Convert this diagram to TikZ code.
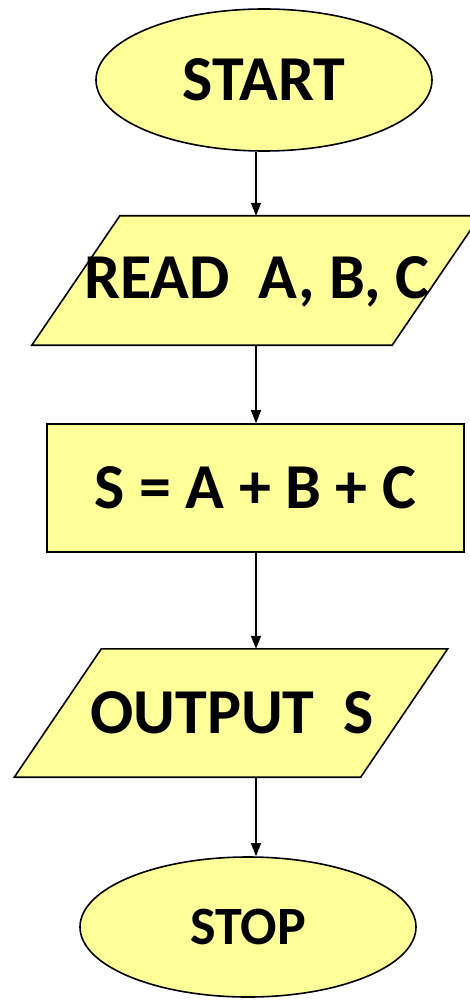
\documentclass[tikz,border=0pt]{standalone}
\usepackage{fontspec}
\setmainfont{Carlito}
\usetikzlibrary{shapes.geometric,arrows.meta,backgrounds,calc}
\definecolor{fc}{HTML}{FFFF99}
\tikzset{
  term/.style={ellipse,draw=black,fill=fc,line width=1.6pt,inner sep=0pt},
  proc/.style={rectangle,draw=black,fill=fc,line width=1.6pt,inner sep=0pt},
  iotext/.style={inner sep=0pt,draw=none},
  iobox/.style={draw=black,fill=fc,line width=1.6pt,line join=miter},
  arr/.style={line width=1.4pt,-{Triangle[length=13pt,width=10pt]}},
  big/.style={font=\fontsize{64}{70}\selectfont\bfseries},
  small/.style={font=\fontsize{54}{60}\selectfont\bfseries}
}
\begin{document}
\begin{tikzpicture}[x=1pt,y=-1pt]
\useasboundingbox (0,0) rectangle (470,1000);
\clip (0,0) rectangle (470,1000);
\coordinate (axis) at (256,0);
\node[term,big,minimum width=336pt,minimum height=142pt] (start) at (264,80) {START};
\node[iotext,big,minimum width=360pt,minimum height=129pt] (read) at (256,280.5) {};
\node[proc,big,minimum width=417pt,minimum height=128pt] (sum) at (255.5,488) {S = A + B + C};
\node[iotext,big,minimum width=346pt,minimum height=128pt] (out) at (231,713) {};
\node[term,small,minimum width=336pt,minimum height=140pt] (stop) at (248,927) {STOP};
\begin{scope}[on background layer]
\draw[iobox] ($(read.north west)+(44,0)$) -- ($(read.north east)+(44,0)$) -- ($(read.south east)+(-44,0)$) -- ($(read.south west)+(-44,0)$) -- cycle;
\draw[iobox] ($(out.north west)+(43.5,0)$) -- ($(out.north east)+(43.5,0)$) -- ($(out.south east)+(-43.5,0)$) -- ($(out.south west)+(-43.5,0)$) -- cycle;
\end{scope}
\node[big,inner sep=0pt] (readlbl) at (257,282) {READ\ \ A, B, C};
\node[big,inner sep=0pt] (outlbl) at (232,713) {OUTPUT\ \ S};
\draw[arr] (axis |- start.south) -- (axis |- read.north);
\draw[arr] (axis |- read.south) -- (axis |- sum.north);
\draw[arr] (axis |- sum.south) -- (axis |- out.north);
\draw[arr] (axis |- out.south) -- (axis |- stop.north);
\end{tikzpicture}
\end{document}
